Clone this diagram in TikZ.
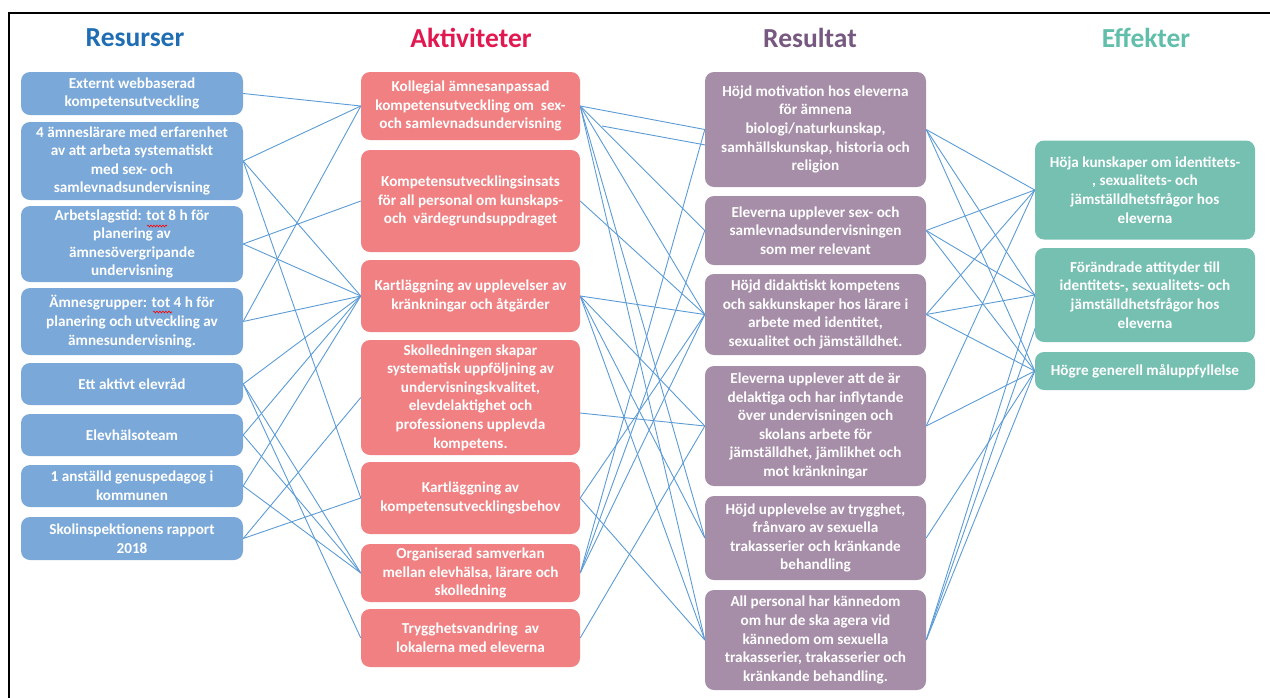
\documentclass[tikz,border=0pt]{standalone}
\usepackage{fontspec}
\setmainfont{Carlito}
\usetikzlibrary{backgrounds,decorations.pathmorphing}
\definecolor{cR}{RGB}{122,168,216}
\definecolor{cA}{RGB}{240,128,130}
\definecolor{cS}{RGB}{166,141,168}
\definecolor{cF}{RGB}{118,192,178}
\definecolor{ln}{RGB}{91,155,213}
\definecolor{tR}{RGB}{31,110,180}
\definecolor{tA}{RGB}{226,24,80}
\definecolor{tS}{RGB}{118,88,128}
\definecolor{tF}{RGB}{96,190,170}
\begin{document}
\begin{tikzpicture}[x=1pt,y=-1pt,
  box/.style={rounded corners=9pt, text=white, align=center, inner sep=0pt,
    font=\fontsize{15.2}{18.6}\selectfont\bfseries},
  rbox/.style={box, fill=cR, minimum width=222pt},
  abox/.style={box, fill=cA, minimum width=219pt},
  sbox/.style={box, fill=cS, minimum width=221pt},
  fbox/.style={box, fill=cF, minimum width=220pt},
  ttl/.style={font=\fontsize{27.5}{30}\selectfont\bfseries},
  conn/.style={draw=ln, line width=0.9pt},
  squig/.style={draw=red, line width=0.6pt, decorate, decoration={snake, amplitude=0.9pt, segment length=3pt}}]
\useasboundingbox (0,0) rectangle (1270,697);
\draw[line width=1.3pt] (9,702) -- (9,13) -- (1275,13);

\node[ttl, text=tR] (tR) at (135,38) {Resurser};
\node[ttl, text=tA] (tA) at (471,38) {Aktiviteter};
\node[ttl, text=tS] (tS) at (810,38) {Resultat};
\node[ttl, text=tF] (tF) at (1146,38) {Effekter};

% Resurser
\node[rbox, minimum height=43pt] (R1) at (132,93.5) {Externt webbaserad\\kompetensutveckling};
\node[rbox, minimum height=78pt] (R2) at (132,161) {4 ämneslärare med erfarenhet\\av att arbeta systematiskt\\med sex- och\\samlevnadsundervisning};
\node[rbox, minimum height=76pt] (R3) at (132,244) {Arbetslagstid: tot 8 h för\\planering av\\ämnesövergripande\\undervisning};
\node[rbox, minimum height=67pt] (R4) at (132,321.5) {Ämnesgrupper: tot 4 h för\\planering och utveckling av\\ämnesundervisning.};
\node[rbox, minimum height=42pt] (R5) at (132,384) {Ett aktivt elevråd};
\node[rbox, minimum height=42pt] (R6) at (132,435) {Elevhälsoteam};
\node[rbox, minimum height=42pt] (R7) at (132,486) {1 anställd genuspedagog i\\kommunen};
\node[rbox, minimum height=43pt] (R8) at (132,538.5) {Skolinspektionens rapport\\2018};

% Aktiviteter
\node[abox, minimum height=68pt] (A1) at (470.5,106) {Kollegial ämnesanpassad\\kompetensutveckling om \ sex-\\och samlevnadsundervisning};
\node[abox, minimum height=102pt] (A2) at (470.5,201) {Kompetensutvecklingsinsats\\för all personal om kunskaps-\\och \ värdegrundsuppdraget};
\node[abox, minimum height=72pt] (A3) at (470.5,296) {Kartläggning av upplevelser av\\kränkningar och åtgärder};
\node[abox, minimum height=115pt] (A4) at (470.5,397.5) {Skolledningen skapar\\systematisk uppföljning av\\undervisningskvalitet,\\elevdelaktighet och\\professionens upplevda\\kompetens.};
\node[abox, minimum height=72pt] (A5) at (470.5,498) {Kartläggning av\\kompetensutvecklingsbehov};
\node[abox, minimum height=58pt] (A6) at (470.5,573) {Organiserad samverkan\\mellan elevhälsa, lärare och\\skolledning};
\node[abox, minimum height=58pt] (A7) at (470.5,638) {Trygghetsvandring \ av\\lokalerna med eleverna};

% Resultat
\node[sbox, minimum height=115pt] (S1) at (815.5,129.5) {Höjd motivation hos eleverna\\för ämnena\\biologi/naturkunskap,\\samhällskunskap, historia och\\religion};
\node[sbox, minimum height=69pt] (S2) at (815.5,230.5) {Eleverna upplever sex- och\\samlevnadsundervisningen\\som mer relevant};
\node[sbox, minimum height=81pt] (S3) at (815.5,314.5) {Höjd didaktiskt kompetens\\och sakkunskaper hos lärare i\\arbete med identitet,\\sexualitet och jämställdhet.};
\node[sbox, minimum height=120pt] (S4) at (815.5,426) {Eleverna upplever att de är\\delaktiga och har inflytande\\över undervisningen och\\skolans arbete för\\jämställdhet, jämlikhet och\\mot kränkningar};
\node[sbox, minimum height=84pt] (S5) at (815.5,538) {Höjd upplevelse av trygghet,\\frånvaro av sexuella\\trakasserier och kränkande\\behandling};
\node[sbox, minimum height=100pt] (S6) at (815.5,640) {All personal har kännedom\\om hur de ska agera vid\\kännedom om sexuella\\trakasserier, trakasserier och\\kränkande behandling.};

% Effekter
\node[fbox, minimum height=99pt] (F1) at (1145,190) {Höja kunskaper om identitets-\\, sexualitets- och\\jämställdhetsfrågor hos\\eleverna};
\node[fbox, minimum height=94pt] (F2) at (1145,295) {Förändrade attityder till\\identitets-, sexualitets- och\\jämställdhetsfrågor hos\\eleverna};
\node[fbox, minimum height=38pt] (F3) at (1145,371) {Högre generell måluppfyllelse};

\coordinate (A4r) at (580,413);
\coordinate (stray) at (602,126);
\coordinate (strayend) at (760,155);
\coordinate (F2in) at (1045,300);

\draw[squig] (147,226) -- (167,226);
\draw[squig] (153,312) -- (172,312);

\begin{pgfonlayer}{background}
% Resurser -> Aktiviteter
\foreach \a/\b in {R1/A1,R2/A1,R2/A3,R2/A5,R3/A2,R3/A3,R4/A1,R4/A3,R5/A3,R5/A6,R5/A7,R6/A3,R6/A6,R7/A3,R7/A6,R8/A4,R8/A5}
  \draw[conn] (\a.east) -- (\b.west);
% Aktiviteter -> Resultat
\foreach \a/\b in {A1/S1,A1/S2,A1/S3,A1/S5,A1/S6,A2/S3,A3/S3,A3/S4,A3/S5,A3/S6,A5/S3,A5/S6,A6/S1,A6/S2,A6/S3,A7/S4}
  \draw[conn] (\a.east) -- (\b.west);
\draw[conn] (A4r) -- (S4.west);
\draw[conn] (stray) -- (strayend);
% Resultat -> Effekter
\foreach \a/\b in {S1/F1,S1/F2,S1/F3,S2/F1,S2/F2,S2/F3,S3/F1,S3/F2,S3/F3,S4/F1,S4/F3,S5/F3,S6/F2,S6/F3}
  \draw[conn] (\a.east) -- (\b.west);
\draw[conn] (S6.east) -- (F2in);
\end{pgfonlayer}
\end{tikzpicture}
\end{document}
